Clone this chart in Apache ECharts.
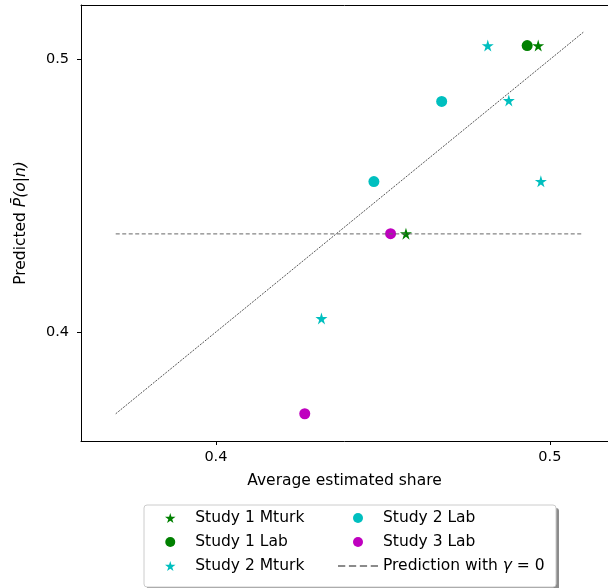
<!DOCTYPE html>
<html>
<head>
<meta charset="utf-8">
<script src="https://cdn.jsdelivr.net/npm/echarts@6/dist/echarts.min.js"></script>
<style>html,body{margin:0;padding:0;background:#fff;}#c{width:608px;height:588px;}</style>
</head>
<body>
<div id="c"></div>
<script>
// Data
const study1Mturk = [[0.4965, 0.5051], [0.4569, 0.4361]];
const study1Lab = [[0.4932, 0.5051]];
const study2Mturk = [[0.4814, 0.5051], [0.4877, 0.4850], [0.4973, 0.4553], [0.4316, 0.4050]];
const study2Lab = [[0.4676, 0.4846], [0.4473, 0.4552]];
const study3Lab = [[0.4523, 0.4361], [0.4266, 0.3700]];
const gammaZeroLine = [[0.37, 0.436], [0.51, 0.436]];
const identityLine = [[0.37, 0.37], [0.51, 0.51]];
const xTicks = [0.4, 0.5];
const yTicks = [0.4, 0.5];

const FONT = 'DejaVu Sans';
const STAR = 'path://M50,0 L61,35 L98,35 L68,57 L79,91 L50,70 L21,91 L32,57 L2,35 L39,35 Z';
const DASH_ICON = 'path://M0,0h6v1.2h-6z M9,0h6v1.2h-6z M18,0h6v1.2h-6z M27,0h6v1.2h-6z';

const chart = echarts.init(document.getElementById('c'), null, {renderer: 'canvas'});
const option = {
  animation: false,
  backgroundColor: '#fff',
  textStyle: {fontFamily: FONT},
  grid: {left: 81, right: 0, top: 5, bottom: 147, show: false},
  xAxis: [{
    type: 'value', min: 0.3596, max: 0.5174,
    name: 'Average estimated share', nameLocation: 'middle', nameGap: 32,
    nameTextStyle: {fontSize: 15.5, color: '#000', fontFamily: FONT},
    axisLine: {show: true, lineStyle: {color: '#000', width: 1}},
    axisTick: {show: true, length: 4, lineStyle: {color: '#000'}, customValues: xTicks},
    axisLabel: {fontSize: 14.5, color: '#000', margin: 9, fontFamily: FONT, customValues: xTicks, formatter: v => v.toFixed(1)},
    splitLine: {show: false}
  }, {
    type: 'value', position: 'top', min: 0.3596, max: 0.5174,
    axisLine: {show: true, lineStyle: {color: '#000', width: 1}},
    axisTick: {show: false}, axisLabel: {show: false}, splitLine: {show: false}
  }],
  yAxis: {
    type: 'value', min: 0.36, max: 0.52,
    name: 'Predicted {i|P̄(o|n)}', nameLocation: 'middle', nameGap: 52,
    nameTextStyle: {fontSize: 15.5, color: '#000', fontFamily: FONT, rich: {i: {fontStyle: 'italic', fontSize: 15.5, fontFamily: FONT, color: '#000'}}},
    axisLine: {show: true, lineStyle: {color: '#000', width: 1}},
    axisTick: {show: true, length: 4, lineStyle: {color: '#000'}, customValues: yTicks},
    axisLabel: {fontSize: 14.5, color: '#000', margin: 12, fontFamily: FONT, customValues: yTicks, formatter: v => v.toFixed(1)},
    splitLine: {show: false}
  },
  graphic: [
    {type: 'rect', shape: {x: 147, y: 508, width: 412, height: 82, r: 3}, style: {fill: 'rgba(0,0,0,0.45)'}, z: 0, silent: true},
    {type: 'rect', shape: {x: 144, y: 505, width: 412, height: 82, r: 3}, style: {fill: '#fff', stroke: '#ccc', lineWidth: 1}, z: 1, silent: true}
  ],
  legend: [
    {
      data: ['Study 1 Mturk', 'Study 1 Lab', 'Study 2 Mturk'],
      orient: 'vertical', left: 160, top: 505, padding: 5,
      itemWidth: 40, itemHeight: 10, itemGap: 8, z: 5,
      textStyle: {fontSize: 15.5, color: '#000', fontFamily: FONT, lineHeight: 14}
    },
    {
      data: ['Study 2 Lab', 'Study 3 Lab', {name: 'Prediction with γ = 0', icon: DASH_ICON, itemStyle: {color: '#666'}}],
      orient: 'vertical', left: 333, top: 505, padding: 5,
      itemWidth: 40, itemHeight: 10, itemGap: 8, z: 5,
      textStyle: {fontSize: 15.5, color: '#000', fontFamily: FONT, lineHeight: 14, rich: {i: {fontStyle: 'italic', fontSize: 15.5, fontFamily: FONT, color: '#000', lineHeight: 14}}},
      formatter: n => n === 'Prediction with γ = 0' ? 'Prediction with {i|γ} = 0' : n
    }
  ],
  series: [
    {name: 'Study 1 Mturk', type: 'scatter', data: study1Mturk, symbol: STAR, symbolSize: 12, itemStyle: {color: '#008000', opacity: 1}},
    {name: 'Study 1 Lab', type: 'scatter', data: study1Lab, symbol: 'circle', symbolSize: 11, itemStyle: {color: '#008000', opacity: 1}},
    {name: 'Study 2 Mturk', type: 'scatter', data: study2Mturk, symbol: STAR, symbolSize: 12, itemStyle: {color: '#00bfbf', opacity: 1}},
    {name: 'Study 2 Lab', type: 'scatter', data: study2Lab, symbol: 'circle', symbolSize: 11, itemStyle: {color: '#00bfbf', opacity: 1}},
    {name: 'Study 3 Lab', type: 'scatter', data: study3Lab, symbol: 'circle', symbolSize: 11, itemStyle: {color: '#bf00bf', opacity: 1}},
    {name: 'Prediction with γ = 0', type: 'line', data: gammaZeroLine, symbol: 'none', lineStyle: {color: '#666', width: 1, type: [4, 2.5]}, itemStyle: {color: '#666'}},
    {name: 'identity', type: 'line', data: identityLine, symbol: 'none', lineStyle: {color: '#555', width: 1, type: [2, 1.2]}}
  ]
};
chart.setOption(option);
</script>
</body>
</html>
